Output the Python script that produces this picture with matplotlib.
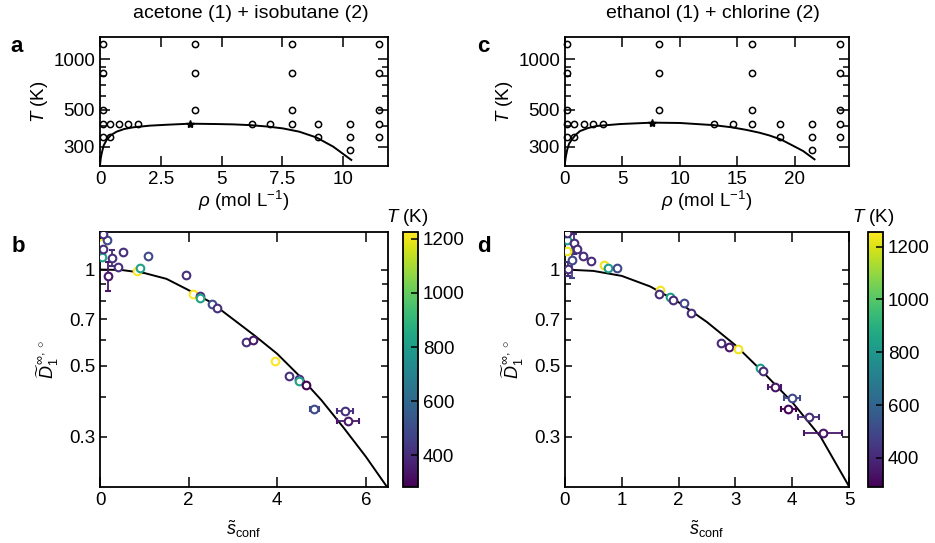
import matplotlib
matplotlib.use('Agg')
import matplotlib.pyplot as plt
import matplotlib.ticker as mticker
from matplotlib.colors import Normalize
import matplotlib.cm as cm
import numpy as np

plt.rcParams['font.family'] = ['Liberation Sans', 'DejaVu Sans']
plt.rcParams['mathtext.fontset'] = 'custom'
plt.rcParams['mathtext.rm'] = 'Liberation Sans'
plt.rcParams['mathtext.it'] = 'Liberation Sans:italic'
plt.rcParams['font.size'] = 13.5

# ---- state points (top panels) ----
grid_T = [1230, 825, 495, 410, 345, 410, 345, 410, 410, 410,
          1230, 825, 495, 410, 410, 1230, 825, 495, 410,
          410, 345, 410, 345, 285, 1230, 825, 495, 410, 345]
a_rho = [0.14, 0.14, 0.14, 0.14, 0.14, 0.41, 0.41, 0.79, 1.16, 1.55,
         3.9, 3.9, 3.9, 6.26, 7.0, 7.9, 7.9, 7.9, 7.9,
         8.97, 8.97, 10.3, 10.3, 10.3, 11.47, 11.47, 11.47, 11.47, 11.47]
c_rho = [0.2, 0.2, 0.2, 0.2, 0.2, 0.8, 0.8, 1.65, 2.46, 3.28,
         8.14, 8.14, 8.14, 13.0, 14.6, 16.26, 16.26, 16.26, 16.26,
         18.7, 18.7, 21.5, 21.5, 21.5, 23.9, 23.9, 23.9, 23.9, 23.9]

a_crit = (3.7, 412)
c_crit = (7.6, 418)

a_curve_rho = [0, 0.03, 0.07, 0.15, 0.27, 0.45, 0.68, 1.0, 1.37, 2.05, 2.74, 3.7, 4.8,
               5.5, 6.16, 6.9, 7.53, 8.2, 8.9, 9.6, 10.34]
a_curve_T = [233, 255, 274, 305, 329, 352, 369, 383, 392, 401, 406, 412, 410,
             408, 404, 396, 386, 369, 341, 300, 250]
c_curve_rho = [0, 0.07, 0.2, 0.35, 0.58, 0.9, 1.3, 2.0, 2.75, 4.8, 7.6, 10.0, 12.9,
               14.5, 15.8, 16.9, 17.8, 18.8, 19.6, 20.7, 21.7]
c_curve_T = [241, 262, 289, 312, 330, 352, 372, 388, 399, 410, 418, 416, 404,
             392, 378, 364, 350, 331, 310, 283, 252]

# ---- diffusion data (bottom panels) ----
b_s = [0.04, 0.04, 0.15, 0.07, 0.075, 0.19, 0.26, 0.41, 0.53, 0.83, 0.90, 1.08,
       1.95, 2.09, 2.26, 2.26, 2.53, 2.64, 3.29, 3.45, 3.95, 4.26, 4.49, 4.49,
       4.66, 4.84, 5.53, 5.59]
b_D = [1.21, 1.096, 1.235, 1.29, 1.163, 0.956, 1.088, 1.017, 1.136, 0.986, 1.012, 1.10,
       0.962, 0.839, 0.827, 0.814, 0.781, 0.759, 0.593, 0.600, 0.516, 0.465, 0.456, 0.448,
       0.437, 0.366, 0.360, 0.337]
b_T = [1230, 825, 495, 410, 410, 345, 410, 410, 410, 1230, 825, 495,
       410, 1230, 410, 825, 495, 410, 410, 345, 1230, 410, 410, 825,
       285, 495, 410, 345]
b_xerr = [0, 0, 0, 0, 0, 0, 0, 0, 0, 0, 0, 0,
          0, 0, 0, 0, 0, 0, 0, 0, 0, 0, 0, 0,
          0, 0.1, 0.17, 0.25]
b_yerr = [0, 0, 0, 0, 0.042, 0.10, 0.059, 0, 0, 0, 0, 0,
          0, 0, 0, 0, 0, 0, 0, 0, 0, 0, 0, 0,
          0, 0, 0, 0]
b_curve_s = [0, 0.5, 1.0, 1.5, 2.0, 2.5, 3.0, 3.5, 4.0, 4.5, 5.0, 5.5, 6.0, 6.5]
b_curve_D = [1.0, 0.996, 0.975, 0.935, 0.862, 0.79, 0.70, 0.62, 0.545, 0.465, 0.39, 0.32, 0.26, 0.207]

d_s = [0.03, 0.03, 0.03, 0.15, 0.21, 0.12, 0.06, 0.32, 0.45, 0.68, 0.76, 0.91,
       1.665, 1.65, 1.84, 1.91, 2.10, 2.21, 2.74, 2.89, 3.04, 3.43, 3.49,
       3.69, 4.0, 3.93, 4.29, 4.54]
d_D = [1.235, 1.30, 1.141, 1.206, 1.157, 1.07, 1.007, 1.104, 1.065, 1.036, 1.014, 1.012,
       0.864, 0.839, 0.819, 0.804, 0.785, 0.732, 0.589, 0.574, 0.563, 0.493, 0.481,
       0.429, 0.397, 0.366, 0.346, 0.309]
d_T = [825, 410, 1230, 410, 410, 495, 410, 410, 410, 1230, 825, 495,
       1230, 410, 825, 410, 495, 410, 410, 345, 1230, 825, 410,
       345, 495, 285, 410, 345]
d_xerr = [0, 0, 0, 0, 0, 0, 0, 0, 0, 0, 0, 0,
          0, 0, 0, 0, 0, 0, 0, 0, 0, 0, 0,
          0.11, 0.14, 0.13, 0.19, 0.34]
d_yerr = [0, 0, 0, 0.086, 0, 0.13, 0.05, 0, 0, 0, 0, 0,
          0, 0, 0, 0, 0, 0, 0, 0, 0, 0, 0,
          0, 0, 0, 0, 0]
d_curve_s = [0, 0.5, 1.0, 1.5, 2.0, 2.5, 3.0, 3.5, 4.0, 4.5, 5.0]
d_curve_D = [1.0, 0.99, 0.955, 0.885, 0.79, 0.685, 0.58, 0.475, 0.385, 0.30, 0.21]

b_Trange = (283, 1225)
d_Trange = (290, 1255)


fig = plt.figure(figsize=(9.35, 5.43), dpi=100)
W, H = 935.0, 543.0


def box(x0, y0, x1, y1):
    return [x0 / W, 1 - y1 / H, (x1 - x0) / W, (y1 - y0) / H]


def style(ax):
    for sp in ax.spines.values():
        sp.set_linewidth(1.3)
    ax.tick_params(which='both', direction='in', top=True, right=True, width=1.1)
    ax.tick_params(which='major', length=7, labelsize=13.5)
    ax.tick_params(which='minor', length=4)


def top_panel(ax, rho, crit, crv_rho, crv_T, xmax, xticks, xlabels):
    ax.plot(crv_rho, crv_T, color='black', lw=1.4)
    ax.plot(rho, grid_T, 'o', mfc='none', mec='black', ms=4.5, mew=1.1, clip_on=False)
    ax.plot(crit[0], crit[1], '*', color='black', ms=6)
    ax.set_yscale('log')
    ax.set_ylim(230, 1360)
    ax.set_xlim(0, xmax)
    ax.yaxis.set_major_locator(mticker.FixedLocator([300, 500, 1000]))
    ax.yaxis.set_major_formatter(mticker.FixedFormatter(['300', '500', '1000']))
    ax.yaxis.set_minor_locator(mticker.FixedLocator([400, 600, 700, 800, 900]))
    ax.yaxis.set_minor_formatter(mticker.NullFormatter())
    ax.set_xticks(xticks)
    ax.set_xticklabels(xlabels)
    ax.set_ylabel('$T$ (K)', fontsize=13.5, labelpad=2)
    ax.set_xlabel(r'$\rho$ (mol L$^{-1}$)', fontsize=13.5, labelpad=1)
    style(ax)


def bottom_panel(ax, cax, s, D, T, xerr, yerr, cs, cD, trange, xmax, xticks):
    norm = Normalize(vmin=trange[0], vmax=trange[1])
    cmap = plt.get_cmap('viridis')
    ax.plot(cs, cD, color='black', lw=1.4, zorder=2)
    for i in range(len(s)):
        col = cmap(norm(T[i]))
        ax.errorbar(s[i], D[i], xerr=xerr[i] if xerr[i] else None,
                    yerr=yerr[i] if yerr[i] else None,
                    fmt='o', mfc='white', mec=col, ecolor=col, ms=5.5, mew=1.5,
                    elinewidth=1.3, capsize=2, capthick=1.3, zorder=3)
    ax.set_yscale('log')
    ax.set_ylim(0.209, 1.31)
    ax.set_xlim(0, xmax)
    ax.set_xticks(xticks)
    ax.yaxis.set_major_locator(mticker.FixedLocator([0.3, 0.5, 0.7, 1.0]))
    ax.yaxis.set_major_formatter(mticker.FixedFormatter(['0.3', '0.5', '0.7', '1']))
    ax.yaxis.set_minor_locator(mticker.FixedLocator([0.4, 0.6, 0.8, 0.9]))
    ax.yaxis.set_minor_formatter(mticker.NullFormatter())
    ax.set_xlabel(r'$\tilde{s}_{\rm conf}$', fontsize=13, labelpad=7)
    ax.set_ylabel(r'$\widetilde{D}_1^{\,\infty,\circ}$', fontsize=13, labelpad=6)
    style(ax)
    ax.tick_params(axis='y', which='major', length=5)

    sm = cm.ScalarMappable(norm=norm, cmap=cmap)
    cb = fig.colorbar(sm, cax=cax)
    cb.set_ticks([400, 600, 800, 1000, 1200])
    cb.outline.set_linewidth(1.3)
    cax.tick_params(direction='in', length=5, width=1.1, labelsize=13.5)
    cax.set_title('$T$ (K)', fontsize=13.5, pad=7, loc='left', x=-1.1)


ax_a = fig.add_axes(box(100, 37, 388, 166))
ax_c = fig.add_axes(box(565, 37, 849, 166))
ax_b = fig.add_axes(box(100, 232, 388, 487))
ax_d = fig.add_axes(box(565, 232, 849, 487))
cax_b = fig.add_axes(box(403, 232, 418, 487))
cax_d = fig.add_axes(box(868, 232, 883, 487))

top_panel(ax_a, a_rho, a_crit, a_curve_rho, a_curve_T, 11.85,
          [0, 2.5, 5, 7.5, 10], ['0', '2.5', '5', '7.5', '10'])
top_panel(ax_c, c_rho, c_crit, c_curve_rho, c_curve_T, 24.7,
          [0, 5, 10, 15, 20], ['0', '5', '10', '15', '20'])

bottom_panel(ax_b, cax_b, b_s, b_D, b_T, b_xerr, b_yerr, b_curve_s, b_curve_D,
             b_Trange, 6.5, [0, 2, 4, 6])
bottom_panel(ax_d, cax_d, d_s, d_D, d_T, d_xerr, d_yerr, d_curve_s, d_curve_D,
             d_Trange, 5.0, [0, 1, 2, 3, 4, 5])

fig.text(251 / W, 1 - 14 / H, 'acetone (1) + isobutane (2)', ha='center', va='center', fontsize=14)
fig.text(713 / W, 1 - 14 / H, 'ethanol (1) + chlorine (2)', ha='center', va='center', fontsize=14)
for lab, x, y in [('a', 17, 46), ('b', 18, 246), ('c', 483, 46), ('d', 484, 246)]:
    fig.text(x / W, 1 - y / H, lab, ha='center', va='center', fontsize=16, fontweight='bold')

fig.savefig('out.png', dpi=100)
